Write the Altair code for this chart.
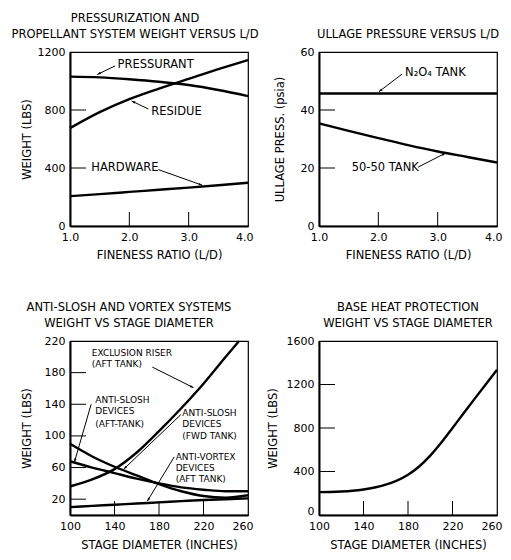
import math
import altair as alt
import pandas as pd

FONT = "DejaVu Sans"
W, H = 178, 174

# ---------------- Panel 1: pressurization & propellant system weight ----------------
ld = [1.0, 1.5, 2.0, 2.5, 3.0, 3.5, 4.0]
pressurant = [1030, 1025, 1012, 995, 972, 938, 896]
residue = [675, 785, 875, 948, 1015, 1082, 1145]
hardware = [206, 220, 235, 250, 265, 281, 298]
p1_yticks = [0, 400, 800, 1200]
p1_xticks = [1.0, 2.0, 3.0, 4.0]
p1_inner_y = [400, 800]
p1_inner_x = [2.0, 3.0]
p1_text = ["PRESSURANT", "RESIDUE", "HARDWARE"]
p1_text_x = [1.80, 2.37, 1.36]
p1_text_y = [1113, 789, 400]
p1_arr_x1 = [1.76, 2.32, 2.49]
p1_arr_y1 = [1104, 807, 389]
p1_arr_x2 = [1.46, 2.04, 3.23]
p1_arr_y2 = [1045, 862, 281]

# ---------------- Panel 2: ullage pressure ----------------
ld2 = [1.0, 1.5, 2.0, 2.5, 3.0, 3.5, 4.0]
n2o4 = [45.7, 45.7, 45.7, 45.7, 45.7, 45.7, 45.7]
tank5050 = [35.4, 32.8, 30.3, 27.9, 25.7, 23.8, 21.9]
p2_yticks = [0, 20, 40, 60]
p2_inner_y = [20, 40]
p2_inner_x = [2.0, 3.0]
p2_text = ["N\u2082O\u2084 TANK", "50-50 TANK"]
p2_text_x = [2.45, 1.55]
p2_text_y = [52.6, 20.0]
p2_arr_x1 = [2.40, 2.67]
p2_arr_y1 = [52.4, 20.3]
p2_arr_x2 = [2.01, 3.13]
p2_arr_y2 = [46.3, 25.1]

# ---------------- Panel 3: anti-slosh & vortex systems ----------------
diam = [100, 120, 140, 160, 180, 200, 220, 240, 260]
diam_riser = [100, 120, 140, 160, 180, 200, 220, 240, 252]
riser = [36, 45, 58, 79, 106, 135, 166, 200, 220]
slosh_aft = [68, 60, 53, 46, 40, 35, 32, 30, 30]
slosh_fwd = [90, 74, 61, 50, 39, 30, 24, 22, 25]
vortex = [10, 11.5, 13, 14.5, 16, 17.5, 19, 20, 21]
p3_yticks = [20, 60, 100, 140, 180, 220]
p3_inner_y = [20, 60, 100, 140, 180]
p3_inner_x = [140, 180, 220]
p3_text = ["EXCLUSION RISER", "(AFT TANK)",
           "ANTI-SLOSH", "DEVICES", "(AFT-TANK)",
           "ANTI-SLOSH", "DEVICES", "(FWD TANK)",
           "ANTI-VORTEX", "DEVICES", "(AFT TANK)"]
p3_text_x = [119.6, 119.6, 122.7, 122.7, 122.7, 201, 201, 201, 195, 195, 195]
p3_text_y = [205, 191, 145.5, 131, 115, 129, 115, 100, 73.5, 59, 45.5]
p3_arr_x1 = [174, 119, 199.7, 193.7]
p3_arr_y1 = [187, 140, 127, 73.5]
p3_arr_x2 = [211, 104, 148.3, 169.5]
p3_arr_y2 = [161, 67, 58, 17.5]

# ---------------- Panel 4: base heat protection ----------------
diam4 = [100, 110, 120, 130, 140, 150, 160, 170, 180, 190, 200, 210, 220, 230, 240, 250, 260]
heat = [210, 212, 216, 223, 235, 253, 279, 316, 370, 446, 546, 666, 800, 936, 1070, 1203, 1335]
p4_yticks = [0, 400, 800, 1200, 1600]
p4_inner_y = [400, 800, 1200]
p4_inner_x = [140, 180, 220]
p34_xticks = [100, 140, 180, 220, 260]


def arrow_angles(x1, y1, x2, y2, xdom, ydom):
    out = []
    for a, b, c, d in zip(x1, y1, x2, y2):
        dx = (c - a) / (xdom[1] - xdom[0]) * W
        dy = -(d - b) / (ydom[1] - ydom[0]) * H
        out.append(math.degrees(math.atan2(dx, -dy)) % 360)
    return out


def panel(lines, xdom, ydom, xvals, yvals, xfmt, xtitle, ytitle, ytp, xtp,
          inner_x, inner_y, texts, arrows, title, tdx, tsize, zero_shift=0):
    last = "datum.value >= %s" % (xdom[1] - 1e-6)
    xenc = alt.X("x:Q", scale=alt.Scale(domain=xdom, nice=False, zero=False),
                 axis=alt.Axis(values=xvals, format=xfmt, title=xtitle,
                               titlePadding=xtp, labelOverlap=False,
                               labelAlign={"condition": {"test": last, "value": "right"},
                                           "value": "center"},
                               labelOffset={"condition": {"test": last, "value": 5},
                                            "value": 0}))
    yenc = alt.Y("y:Q", scale=alt.Scale(domain=ydom, nice=False, zero=False),
                 axis=alt.Axis(values=yvals, format="d", title=ytitle,
                               titlePadding=ytp, labelOverlap=False,
                               labelOffset={"condition": {"test": "datum.value == 0",
                                                          "value": zero_shift},
                                            "value": 0}))
    rows = []
    for name, xs, ys in lines:
        for a, b in zip(xs, ys):
            rows.append({"s": name, "x": a, "y": b})
    ldf = pd.DataFrame(rows)
    line = alt.Chart(ldf).mark_line(color="black", strokeWidth=2.4,
                                    interpolate="monotone").encode(
        x=xenc, y=yenc, detail="s:N")
    layers = [line]

    tiy = alt.Chart(pd.DataFrame({"y": inner_y})).mark_rule(
        color="black", strokeWidth=1).encode(y=yenc, x=alt.value(0), x2=alt.value(16))
    tix = alt.Chart(pd.DataFrame({"x": inner_x})).mark_rule(
        color="black", strokeWidth=1).encode(x=xenc, y=alt.value(H), y2=alt.value(H - 14))
    layers += [tiy, tix]

    tl, tx, ty = texts
    tdf = pd.DataFrame({"t": tl, "x": tx, "y": ty})
    txt = alt.Chart(tdf).mark_text(align="left", baseline="middle", font=FONT,
                                   fontSize=tsize, color="black").encode(
        x=xenc, y=yenc, text="t:N")
    layers.append(txt)

    ax1, ay1, ax2, ay2 = arrows
    adf = pd.DataFrame({"x": ax1, "y": ay1, "x2": ax2, "y2": ay2})
    rule = alt.Chart(adf).mark_rule(color="black", strokeWidth=1).encode(
        x=xenc, y=yenc, x2="x2:Q", y2="y2:Q")
    hdf = pd.DataFrame({"x": ax2, "y": ay2,
                        "ang": arrow_angles(ax1, ay1, ax2, ay2, xdom, ydom)})
    head = alt.Chart(hdf).mark_point(
        shape="M0,0L0.35,1L-0.35,1Z", filled=True, color="black", size=50,
        opacity=1).encode(
        x=xenc, y=yenc, angle=alt.Angle("ang:Q", scale=None))
    layers += [rule, head]

    return alt.layer(*layers).properties(
        width=W, height=H,
        title=alt.TitleParams(title, font=FONT, fontSize=11.5, fontWeight="normal",
                              color="black", anchor="middle", offset=6,
                              lineHeight=15.5, dx=tdx))


p1 = panel([("pressurant", ld, pressurant), ("residue", ld, residue),
            ("hardware", ld, hardware)],
           [1, 4], [0, 1200], p1_xticks, p1_yticks, ".1f",
           "FINENESS RATIO (L/D)", "WEIGHT (LBS)", 5, 7,
           p1_inner_x, p1_inner_y, (p1_text, p1_text_x, p1_text_y),
           (p1_arr_x1, p1_arr_y1, p1_arr_x2, p1_arr_y2),
           ["PRESSURIZATION AND", "PROPELLANT SYSTEM WEIGHT VERSUS L/D"], -24, 11.5)

p2 = panel([("n2o4", ld2, n2o4), ("5050", ld2, tank5050)],
           [1, 4], [0, 60], p1_xticks, p2_yticks, ".1f",
           "FINENESS RATIO (L/D)", "ULLAGE PRESS. (psia)", 15, 7,
           p2_inner_x, p2_inner_y, (p2_text, p2_text_x, p2_text_y),
           (p2_arr_x1, p2_arr_y1, p2_arr_x2, p2_arr_y2),
           "ULLAGE PRESSURE VERSUS L/D", 0, 11.5)

p3 = panel([("riser", diam_riser, riser), ("aft", diam, slosh_aft),
            ("fwd", diam, slosh_fwd), ("vortex", diam, vortex)],
           [100, 260], [0, 220], p34_xticks, p3_yticks, "d",
           "STAGE DIAMETER (INCHES)", "WEIGHT (LBS)", 12, 8,
           p3_inner_x, p3_inner_y, (p3_text, p3_text_x, p3_text_y),
           (p3_arr_x1, p3_arr_y1, p3_arr_x2, p3_arr_y2),
           ["ANTI-SLOSH AND VORTEX SYSTEMS", "WEIGHT VS STAGE DIAMETER"], -30, 9)

p4 = panel([("heat", diam4, heat)],
           [100, 260], [0, 1600], p34_xticks, p4_yticks, "d",
           "STAGE DIAMETER (INCHES)", "WEIGHT (LBS)", 8, 8,
           p4_inner_x, p4_inner_y, ([], [], []),
           ([], [], [], []),
           ["BASE HEAT PROTECTION", "WEIGHT VS STAGE DIAMETER"], 0, 9, zero_shift=-4)

chart = alt.concat(p1, p2, p3, p4, columns=2, spacing={"row": 115, "column": 71},
                   bounds="flush").properties(
    padding={"left": 2, "top": 4, "right": 0, "bottom": 0},
    background="white"
).configure_view(stroke="black", strokeWidth=1.2).configure_axis(
    ticks=False, tickSize=0, domain=True, domainColor="black", domainWidth=2,
    grid=False, labelFont=FONT, labelFontSize=11, labelColor="black",
    labelPadding=5, titleFont=FONT, titleFontSize=11.5, titleFontWeight="normal",
    titleColor="black", labelOverlap=False
)

chart.save("out.html", embed_options={"renderer": "svg", "actions": False})
